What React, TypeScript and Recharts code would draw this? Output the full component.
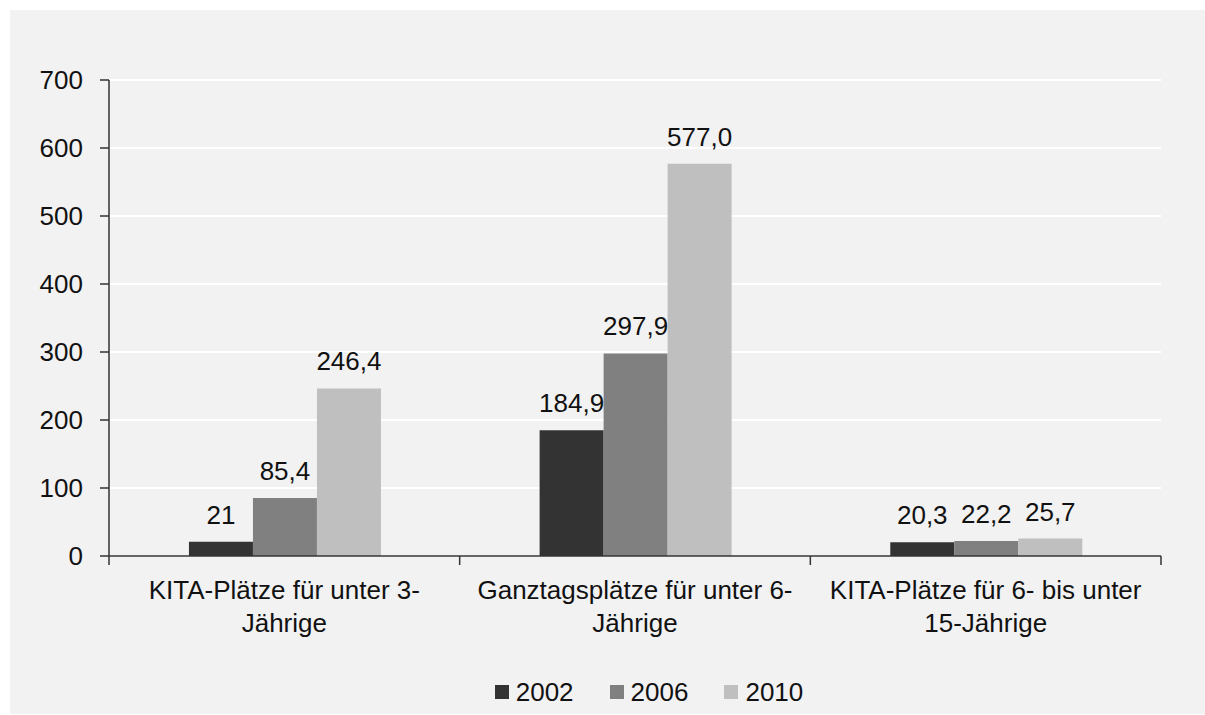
import { BarChart, Bar, XAxis, YAxis, CartesianGrid, LabelList, Legend } from 'recharts'

const categories = [
  'KITA-Plätze für unter 3-Jährige',
  'Ganztagsplätze für unter 6-Jährige',
  'KITA-Plätze für 6- bis unter 15-Jährige',
]
const years = ['2002', '2006', '2010']
const values2002 = [21, 184.9, 20.3]
const values2006 = [85.4, 297.9, 22.2]
const values2010 = [246.4, 577.0, 25.7]
// labels as printed in the original (German decimal comma)
const labels2002 = ['21', '184,9', '20,3']
const labels2006 = ['85,4', '297,9', '22,2']
const labels2010 = ['246,4', '577,0', '25,7']
const yTicks = [0, 100, 200, 300, 400, 500, 600, 700]

const colors = ['#333333', '#808080', '#bfbfbf']
const FONT = '"Liberation Sans", Arial, sans-serif'
const INK = '#111111'
const AXIS = '#333333'

const data = categories.map((name, i) => ({
  name,
  y2002: values2002[i],
  y2006: values2006[i],
  y2010: values2010[i],
  l2002: labels2002[i],
  l2006: labels2006[i],
  l2010: labels2010[i],
}))

function wrap(text: string, max: number) {
  const tokens = text.match(/[^\s-]+-?\s?|\s/g) || [text]
  const lines: string[] = []
  let cur = ''
  for (const t of tokens) {
    if ((cur + t).trim().length > max && cur) {
      lines.push(cur.trim())
      cur = t
    } else cur += t
  }
  if (cur.trim()) lines.push(cur.trim())
  return lines
}

// label plus tick marks at the band edges (Excel style)
function CategoryTick({ x, y, payload, index, visibleTicksCount, width }: any) {
  const lines = wrap(String(payload.value), 28)
  const half = payload.offset || width / visibleTicksCount / 2
  const last = index === visibleTicksCount - 1
  return (
    <g>
      <line x1={x - half} x2={x - half} y1={y} y2={y + 9} stroke={AXIS} strokeWidth={1.5} />
      {last && <line x1={x + half} x2={x + half} y1={y} y2={y + 9} stroke={AXIS} strokeWidth={1.5} />}
      <text x={x} y={y} textAnchor="middle" fill={INK} fontSize={26} fontFamily={FONT}>
        {lines.map((l, i) => (
          <tspan key={i} x={x} dy={i === 0 ? 43 : 33}>{l}</tspan>
        ))}
      </text>
    </g>
  )
}

function LegendContent({ payload }: any) {
  return (
    <div style={{ display: 'flex', justifyContent: 'center', alignItems: 'center', height: 40, gap: 36 }}>
      {(payload || []).map((p: any) => (
        <div key={p.value} style={{ display: 'flex', alignItems: 'center', gap: 7 }}>
          <span style={{ width: 14, height: 14, background: p.color, display: 'inline-block' }} />
          <span style={{ fontSize: 26, fontFamily: FONT, color: INK, lineHeight: '40px' }}>{p.value}</span>
        </div>
      ))}
    </div>
  )
}

export default function App() {
  return (
    <div style={{ position: 'absolute', left: 0, top: 0, width: 1205, height: 715, background: '#ffffff' }}>
      <div style={{ position: 'absolute', left: 10, top: 10, width: 1195, height: 704, background: '#f2f2f2' }}>
        <BarChart
          width={1195}
          height={704}
          data={data}
          margin={{ top: 70, right: 44, left: 0, bottom: 2 }}
          barCategoryGap="22.8%"
          barGap={0}
        >
          <CartesianGrid vertical={false} stroke="#ffffff" strokeWidth={2} />
          <XAxis
            dataKey="name"
            axisLine={{ stroke: AXIS, strokeWidth: 1.5 }}
            tickLine={false}
            tickSize={0}
            tickMargin={0}
            height={116}
            interval={0}
            tick={<CategoryTick />}
          />
          <YAxis
            domain={[0, 700]}
            ticks={yTicks}
            width={99}
            tickSize={9}
            tickMargin={17}
            axisLine={{ stroke: AXIS, strokeWidth: 1.5 }}
            tickLine={{ stroke: AXIS, strokeWidth: 1.5 }}
            tick={{ fill: INK, fontSize: 26, fontFamily: FONT }}
          />
          <Legend
            verticalAlign="bottom"
            content={<LegendContent />}
            wrapperStyle={{ left: 83, width: 1112 }}
          />
          <Bar dataKey="y2002" name={years[0]} fill={colors[0]} isAnimationActive={false}>
            <LabelList dataKey="l2002" position="top" offset={18} fill={INK} fontSize={26} fontFamily={FONT} />
          </Bar>
          <Bar dataKey="y2006" name={years[1]} fill={colors[1]} isAnimationActive={false}>
            <LabelList dataKey="l2006" position="top" offset={18} fill={INK} fontSize={26} fontFamily={FONT} />
          </Bar>
          <Bar dataKey="y2010" name={years[2]} fill={colors[2]} isAnimationActive={false}>
            <LabelList dataKey="l2010" position="top" offset={18} fill={INK} fontSize={26} fontFamily={FONT} />
          </Bar>
        </BarChart>
      </div>
    </div>
  )
}
